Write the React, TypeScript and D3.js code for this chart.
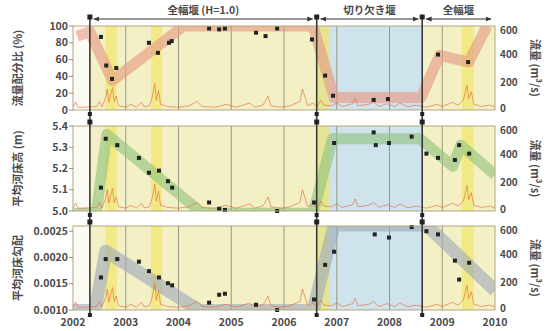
import React from "react";
import * as d3 from "d3";

// ---------- data ----------
const yearTicks = [2002, 2003, 2004, 2005, 2006, 2007, 2008, 2009, 2010];
const periodBounds = [2002.32, 2006.62, 2008.62, 2010];
const periodLabels = ["全幅堰 (H=1.0)", "切り欠き堰", "全幅堰"];
const floodBands: [number, number][] = [
  [2002.61, 2002.83],
  [2003.48, 2003.69],
  [2006.63, 2006.86],
  [2009.37, 2009.6],
];

const ratioTicks = [0, 20, 40, 60, 80, 100];
const ratioPoints: [number, number][] = [
  [2002.53, 87], [2002.63, 53], [2002.74, 37], [2002.82, 50], [2003.44, 80],
  [2003.61, 68], [2003.82, 80], [2003.87, 82], [2004.58, 97], [2004.77, 96],
  [2004.88, 97], [2005.47, 92], [2005.65, 88], [2005.87, 97], [2006.53, 84],
  [2006.78, 41], [2006.93, 17], [2007.7, 12], [2007.97, 13], [2008.92, 66],
  [2009.49, 57],
];
const ratioTrend: [number, number][] = [
  [2002.08, 88], [2002.32, 93], [2002.75, 35], [2004.1, 100], [2006.55, 100],
  [2006.95, 15], [2008.6, 15], [2008.95, 65], [2009.5, 57], [2009.85, 100],
];

const bedTicks = [5.0, 5.1, 5.2, 5.3, 5.4];
const bedPoints: [number, number][] = [
  [2002.53, 5.11], [2002.62, 5.34], [2002.84, 5.31], [2003.25, 5.25], [2003.44, 5.18],
  [2003.63, 5.19], [2003.8, 5.14], [2003.88, 5.11], [2004.58, 5.04], [2004.77, 5.01],
  [2004.88, 5.005], [2005.87, 5.0], [2006.57, 5.04], [2006.95, 5.32], [2007.7, 5.37],
  [2007.74, 5.31], [2007.99, 5.32], [2008.42, 5.35], [2008.7, 5.27], [2008.92, 5.25],
  [2009.24, 5.24], [2009.32, 5.31], [2009.51, 5.27],
];
const bedTrend: [number, number][] = [
  [2002.0, 4.99], [2002.44, 4.99], [2002.64, 5.36], [2004.45, 4.99], [2006.55, 4.99],
  [2006.92, 5.34], [2008.58, 5.34], [2009.2, 5.21], [2009.35, 5.31], [2010.0, 5.17],
];

const slopeTicks = [0.001, 0.0015, 0.002, 0.0025];
const slopePoints: [number, number][] = [
  [2002.53, 0.00162], [2002.62, 0.00197], [2002.84, 0.00197], [2003.25, 0.00192],
  [2003.44, 0.00174], [2003.63, 0.00162], [2003.8, 0.00151], [2003.88, 0.00147],
  [2004.58, 0.00114], [2004.77, 0.00129], [2004.88, 0.00131], [2005.47, 0.0011],
  [2005.87, 0.001], [2006.57, 0.0012], [2006.78, 0.00186], [2006.95, 0.00211],
  [2007.72, 0.00244], [2007.99, 0.00238], [2008.42, 0.00258], [2008.7, 0.0025],
  [2008.92, 0.00244], [2009.24, 0.00194], [2009.32, 0.00158], [2009.51, 0.0019],
];
const slopeTrend: [number, number][] = [
  [2002.0, 0.00099], [2002.42, 0.00099], [2002.62, 0.00212], [2004.4, 0.00099],
  [2006.55, 0.00099], [2006.95, 0.00262], [2008.7, 0.00262], [2010.0, 0.00137],
];

const dischargeTicks = [0, 200, 400, 600];
const discharge: [number, number][] = [
  [2002.0, 18], [2002.05, 55], [2002.1, 18], [2002.3, 22], [2002.45, 25], [2002.5, 60],
  [2002.55, 22], [2002.62, 90], [2002.65, 150], [2002.68, 55], [2002.72, 120],
  [2002.75, 160], [2002.78, 60], [2002.82, 100], [2002.86, 30], [2003.0, 20],
  [2003.1, 40], [2003.2, 20], [2003.3, 55], [2003.35, 22], [2003.45, 30], [2003.5, 90],
  [2003.55, 190], [2003.58, 70], [2003.62, 140], [2003.66, 40], [2003.8, 25],
  [2004.0, 20], [2004.2, 30], [2004.35, 60], [2004.45, 25], [2004.7, 20], [2004.9, 40],
  [2005.1, 20], [2005.35, 50], [2005.45, 20], [2005.6, 35], [2005.7, 100], [2005.75, 30],
  [2005.95, 20], [2006.1, 28], [2006.3, 60], [2006.35, 150], [2006.4, 90], [2006.45, 30],
  [2006.55, 50], [2006.62, 22], [2006.7, 70], [2006.75, 35], [2006.9, 30], [2007.0, 50],
  [2007.1, 25], [2007.3, 45], [2007.35, 85], [2007.4, 30], [2007.6, 40], [2007.7, 60],
  [2007.8, 25], [2007.95, 45], [2008.1, 25], [2008.2, 50], [2008.35, 22], [2008.5, 35],
  [2008.7, 20], [2008.9, 40], [2009.0, 25], [2009.2, 55], [2009.3, 35], [2009.4, 70],
  [2009.47, 180], [2009.5, 80], [2009.55, 130], [2009.6, 40], [2009.75, 25],
  [2009.9, 35], [2010.0, 22],
];

// ---------- layout ----------
const W = 550;
const H = 331;
const X0 = 73;
const X1 = 495;

const x = d3.scaleLinear().domain([2002, 2010]).range([X0, X1]);

type Panel = {
  top: number;
  bottom: number;
  domain: [number, number];
  ticks: number[];
  fmt: (v: number) => string;
  label: string;
  points: [number, number][];
  trend: [number, number][];
  trendColor: string;
  trendWidth: number;
};

const panels: Panel[] = [
  {
    top: 26, bottom: 110, domain: [0, 100], ticks: ratioTicks,
    fmt: (v) => String(v), label: "流量配分比 (%)",
    points: ratioPoints, trend: ratioTrend, trendColor: "#e59a82", trendWidth: 11,
  },
  {
    top: 126, bottom: 211, domain: [5.0, 5.4], ticks: bedTicks,
    fmt: (v) => v.toFixed(1), label: "平均河床高 (m)",
    points: bedPoints, trend: bedTrend, trendColor: "#8fc47c", trendWidth: 11,
  },
  {
    top: 226, bottom: 310, domain: [0.001, 0.0026], ticks: slopeTicks,
    fmt: (v) => v.toFixed(4), label: "平均河床勾配",
    points: slopePoints, trend: slopeTrend, trendColor: "#9ea9ba", trendWidth: 13,
  },
];

const FONT = "'Noto Sans CJK JP', 'Noto Sans', sans-serif";

function PanelView({ p, i }: { p: Panel; i: number }) {
  const y = d3.scaleLinear().domain(p.domain).range([p.bottom, p.top]);
  const yq = d3.scaleLinear().domain([0, 600]).range([p.bottom, p.top]);
  const line = d3.line<[number, number]>().x((d) => x(d[0])).y((d) => y(d[1]));
  const qLine = d3.line<[number, number]>().x((d) => x(d[0])).y((d) => yq(d[1]));
  const clipId = `clip${i}`;
  const [b0, b1, b2, b3] = periodBounds.map((v) => x(v));
  const mid = (p.top + p.bottom) / 2;
  return (
    <g>
      <defs>
        <clipPath id={clipId}>
          <rect x={X0} y={p.top} width={X1 - X0} height={p.bottom - p.top} />
        </clipPath>
      </defs>
      <rect x={X0} y={p.top} width={X1 - X0} height={p.bottom - p.top} fill="#fbfbf4" />
      <rect x={b0} y={p.top} width={b1 - b0} height={p.bottom - p.top} fill="#f3f0c6" />
      <rect x={b1} y={p.top} width={b2 - b1} height={p.bottom - p.top} fill="#cfe3ec" />
      <rect x={b2} y={p.top} width={b3 - b2} height={p.bottom - p.top} fill="#f3f0c6" />
      {floodBands.map((fb, k) => (
        <rect key={k} x={x(fb[0])} y={p.top} width={x(fb[1]) - x(fb[0])}
          height={p.bottom - p.top} fill="#f2e45a" opacity={0.6} />
      ))}
      {yearTicks.slice(1, -1).map((yr) => (
        <line key={yr} x1={x(yr)} x2={x(yr)} y1={p.top} y2={p.bottom}
          stroke="#8e8f7c" strokeWidth={0.9} />
      ))}
      <g clipPath={`url(#${clipId})`}>
        <path d={line(p.trend) || ""} fill="none" stroke={p.trendColor}
          strokeWidth={p.trendWidth} strokeOpacity={0.62} strokeLinejoin="round" />
        <path d={qLine(discharge) || ""} fill="none" stroke="#e8693c"
          strokeWidth={0.8} opacity={0.8} />
      </g>
      {p.points.map((d, k) => (
        <rect key={k} x={x(d[0]) - 2} y={y(d[1]) - 2} width={4} height={4} fill="#222" />
      ))}
      <rect x={X0} y={p.top} width={X1 - X0} height={p.bottom - p.top}
        fill="none" stroke="#b3a67c" strokeWidth={1} />
      {/* left axis */}
      {p.ticks.map((t) => (
        <g key={t}>
          <line x1={X0 - 4} x2={X0} y1={y(t)} y2={y(t)} stroke="#777" strokeWidth={0.8} />
          <text x={X0 - 5} y={y(t)} dy="0.35em" textAnchor="end" fontSize={10.5}
            fill="#4a4a4a" fontFamily={FONT} fontWeight={600}>{p.fmt(t)}</text>
        </g>
      ))}
      <text transform={`translate(22,${mid}) rotate(-90)`} textAnchor="middle"
        fontSize={11} fill="#4a4a4a" fontFamily={FONT} fontWeight={600}>{p.label}</text>
      {/* right axis */}
      {dischargeTicks.map((t) => (
        <text key={t} x={X1 + 5} y={t === 0 ? yq(t) - 2 : t === 600 ? yq(t) + 4 : yq(t)}
          dy="0.35em" fontSize={10}
          fill="#4a4a4a" fontFamily={FONT} fontWeight={600}
          textAnchor="start">{t}</text>
      ))}
      <text transform={`translate(531,${mid}) rotate(90)`} textAnchor="middle"
        fontSize={11} fill="#4a4a4a" fontFamily={FONT} fontWeight={600}>流量 (m³/s)</text>
    </g>
  );
}

export default function App() {
  const bx = periodBounds.map((v) => x(v));
  const arrowY = 19;
  const topY = 17;
  const botY = 316;
  return (
    <svg width={W} height={H} style={{ position: "absolute", left: 0, top: 0, background: "#fff" }}>
      <defs>
        <marker id="ah" viewBox="0 0 10 10" refX="9" refY="5" markerWidth="5" markerHeight="5"
          orient="auto-start-reverse">
          <path d="M0,1 L10,5 L0,9 z" fill="#333" />
        </marker>
      </defs>
      {panels.map((p, i) => (
        <PanelView key={i} p={p} i={i} />
      ))}
      {/* period boundaries */}
      {bx.slice(0, 3).map((bxv, k) => (
        <g key={k}>
          <line x1={bxv} x2={bxv} y1={topY} y2={botY} stroke="#3a3a3a" strokeWidth={1.6} />
          {[topY, panels[1].top - 4, panels[2].top - 4].map((yy, j) => (
            <rect key={j} x={bxv - 2.5} y={yy - 2.5} width={5} height={5} fill="#222" />
          ))}
          {[panels[0].bottom + 4, panels[1].bottom + 4, panels[2].bottom + 5].map((yy, j) => (
            <rect key={"b" + j} x={bxv - 2} y={yy - 2} width={4} height={4} fill="#222" />
          ))}
        </g>
      ))}
      {/* period arrows & labels */}
      {periodLabels.map((lab, k) => {
        const a = bx[k] + 4;
        const b = bx[k + 1] - 4;
        return (
          <g key={k}>
            <line x1={a} x2={b} y1={arrowY} y2={arrowY} stroke="#333" strokeWidth={1.2}
              markerStart="url(#ah)" markerEnd="url(#ah)" />
            <text x={(bx[k] + bx[k + 1]) / 2} y={14} textAnchor="middle" fontSize={10.5}
              fill="#4a4a4a" fontFamily={FONT} fontWeight={600}>{lab}</text>
          </g>
        );
      })}
      {/* x axis labels */}
      {yearTicks.map((yr) => (
        <text key={yr} x={x(yr)} y={326} textAnchor="middle" fontSize={10.5}
          fill="#4a4a4a" fontFamily={FONT} fontWeight={600}>{yr}</text>
      ))}
    </svg>
  );
}
